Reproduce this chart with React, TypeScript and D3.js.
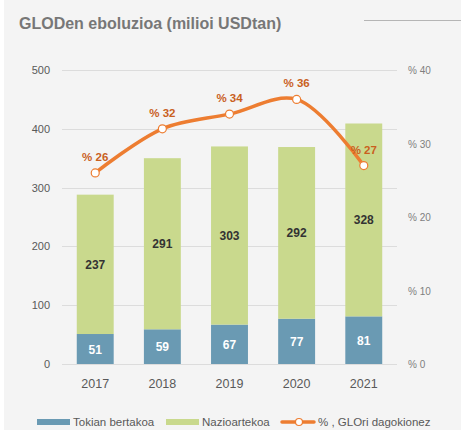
import React, { useEffect, useRef } from 'react';
import * as d3 from 'd3';

const years = ['2017', '2018', '2019', '2020', '2021'];
const tokian = [51, 59, 67, 77, 81];
const nazioartekoa = [237, 291, 303, 292, 328];
const ehunekoa = [26, 32, 34, 36, 27];
const leftTicks = [0, 100, 200, 300, 400, 500];
const rightTicks = [0, 10, 20, 30, 40];

function App() {
  const ref = useRef<SVGSVGElement>(null);

  useEffect(() => {
    const width = 461;
    const height = 430;
    const svg = d3.select(ref.current);
    svg.selectAll('*').remove();

    const font = '"Liberation Sans", Arial, sans-serif';
    const blue = '#6a9ab3';
    const green = '#c9d98d';
    const orange = '#ed7d31';

    svg.append('rect').attr('width', width).attr('height', height).attr('fill', '#f4f4f4');
    svg.append('rect').attr('width', 4).attr('height', height).attr('fill', '#ffffff');

    // Title
    svg.append('text')
      .attr('x', 19).attr('y', 29)
      .attr('font-family', font).attr('font-size', 16).attr('font-weight', 'bold')
      .attr('fill', '#777777')
      .text('GLODen eboluzioa (milioi USDtan)');
    svg.append('line')
      .attr('x1', 364).attr('x2', width).attr('y1', 20.5).attr('y2', 20.5)
      .attr('stroke', '#b5b5b5').attr('stroke-width', 1);

    const x = d3.scaleBand().domain(years).range([62, 397]).paddingInner(0.45).paddingOuter(0.22);
    const y = d3.scaleLinear().domain([0, 500]).range([364, 70]);
    const y2 = d3.scaleLinear().domain([0, 40]).range([364, 70]);

    // Grid
    svg.append('g').selectAll('line').data(leftTicks).enter().append('line')
      .attr('x1', 62).attr('x2', 397)
      .attr('y1', d => Math.round(y(d)) + 0.5).attr('y2', d => Math.round(y(d)) + 0.5)
      .attr('stroke', '#dcdcdc').attr('stroke-width', 1);

    // Left axis labels
    svg.append('g').selectAll('text').data(leftTicks).enter().append('text')
      .attr('x', 50).attr('y', d => y(d) + 4)
      .attr('text-anchor', 'end')
      .attr('font-family', font).attr('font-size', 11).attr('fill', '#595959')
      .text(d => d);

    // Right axis labels
    svg.append('g').selectAll('text').data(rightTicks).enter().append('text')
      .attr('x', 408).attr('y', d => y2(d) + 4)
      .attr('font-family', font).attr('font-size', 10).attr('fill', '#7f7f7f')
      .text(d => '% ' + d);

    // Bars
    const bw = x.bandwidth();
    const g = svg.append('g');
    years.forEach((yr, i) => {
      const x0 = x(yr) as number;
      g.append('rect')
        .attr('x', x0).attr('width', bw)
        .attr('y', y(tokian[i])).attr('height', y(0) - y(tokian[i]))
        .attr('fill', blue);
      g.append('rect')
        .attr('x', x0).attr('width', bw)
        .attr('y', y(tokian[i] + nazioartekoa[i]))
        .attr('height', y(tokian[i]) - y(tokian[i] + nazioartekoa[i]))
        .attr('fill', green);
      g.append('text')
        .attr('x', x0 + bw / 2).attr('y', (y(0) + y(tokian[i])) / 2 + 4.5)
        .attr('text-anchor', 'middle')
        .attr('font-family', font).attr('font-size', 12).attr('font-weight', 'bold')
        .attr('fill', '#ffffff')
        .text(tokian[i]);
      g.append('text')
        .attr('x', x0 + bw / 2).attr('y', (y(tokian[i]) + y(tokian[i] + nazioartekoa[i])) / 2 + 4.5)
        .attr('text-anchor', 'middle')
        .attr('font-family', font).attr('font-size', 12).attr('font-weight', 'bold')
        .attr('fill', '#333333')
        .text(nazioartekoa[i]);
    });

    // Year labels
    svg.append('g').selectAll('text').data(years).enter().append('text')
      .attr('x', d => (x(d) as number) + bw / 2).attr('y', 388)
      .attr('text-anchor', 'middle')
      .attr('font-family', font).attr('font-size', 12.5).attr('fill', '#595959')
      .text(d => d);

    // Line
    const pts: [number, number][] = years.map((yr, i) => [(x(yr) as number) + bw / 2, y2(ehunekoa[i])]);
    const line = d3.line().curve(d3.curveCatmullRom.alpha(0.5));
    svg.append('path')
      .attr('d', line(pts))
      .attr('fill', 'none').attr('stroke', orange).attr('stroke-width', 3.5)
      .attr('stroke-linecap', 'round');
    svg.append('g').selectAll('circle').data(pts).enter().append('circle')
      .attr('cx', d => d[0]).attr('cy', d => d[1]).attr('r', 4)
      .attr('fill', '#ffffff').attr('stroke', orange).attr('stroke-width', 1.2);
    svg.append('g').selectAll('text').data(pts).enter().append('text')
      .attr('x', d => d[0]).attr('y', d => d[1] - 12)
      .attr('text-anchor', 'middle')
      .attr('font-family', font).attr('font-size', 11.5).attr('font-weight', 'bold')
      .attr('fill', '#c9601e')
      .text((d, i) => '% ' + ehunekoa[i]);

    // Legend
    const lg = svg.append('g').attr('font-family', font).attr('font-size', 11.5).attr('fill', '#595959');
    lg.append('rect').attr('x', 37).attr('y', 419).attr('width', 33).attr('height', 6).attr('fill', blue);
    lg.append('text').attr('x', 73).attr('y', 426).text('Tokian bertakoa');
    lg.append('rect').attr('x', 166).attr('y', 419).attr('width', 33).attr('height', 6).attr('fill', green);
    lg.append('text').attr('x', 202).attr('y', 426).text('Nazioartekoa');
    lg.append('line').attr('x1', 282).attr('x2', 314).attr('y1', 422).attr('y2', 422)
      .attr('stroke', orange).attr('stroke-width', 3.5).attr('stroke-linecap', 'round');
    lg.append('circle').attr('cx', 299).attr('cy', 422).attr('r', 3.5)
      .attr('fill', '#ffffff').attr('stroke', orange).attr('stroke-width', 1.2);
    lg.append('text').attr('x', 318).attr('y', 426).text('% , GLOri dagokionez');
  }, []);

  return (
    <div style={{ position: 'absolute', left: 0, top: 0 }}>
      <svg ref={ref} width={461} height={430} style={{ display: 'block' }}></svg>
    </div>
  );
}

export default App;
